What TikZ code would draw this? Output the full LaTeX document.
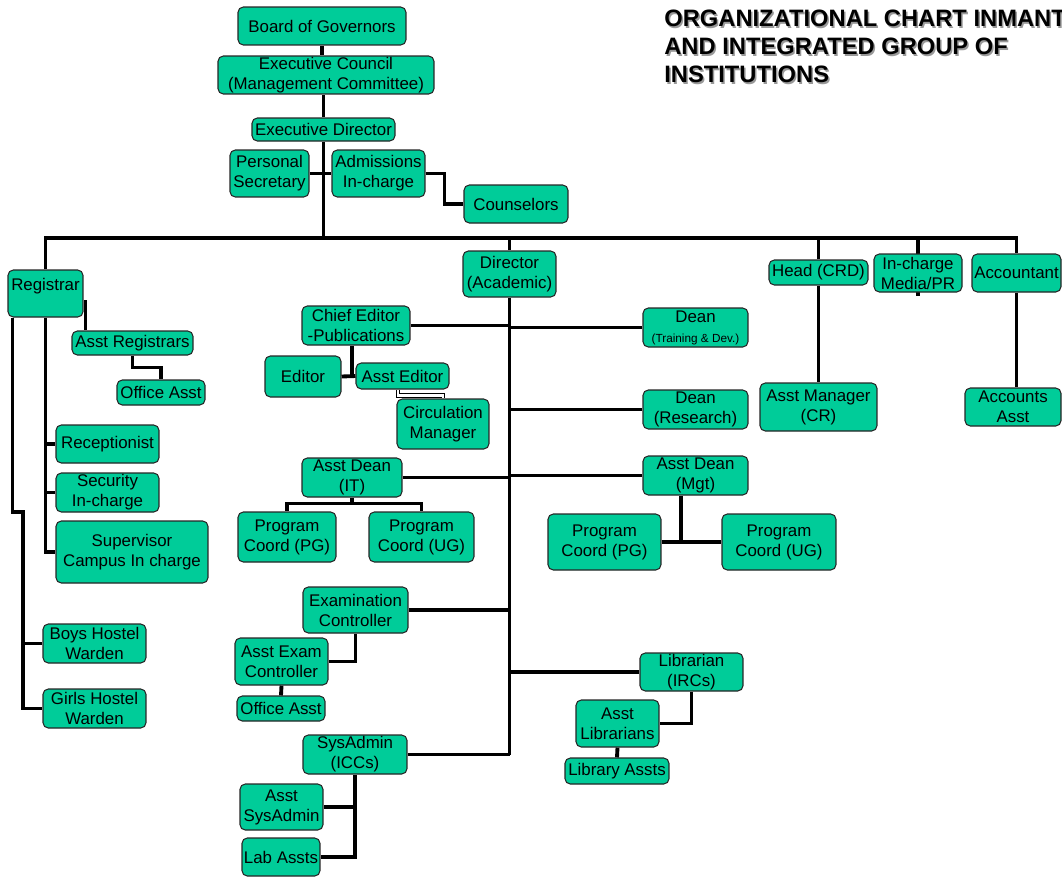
\documentclass[tikz,border=0pt]{standalone}
\usepackage{fontspec}
\setmainfont{Liberation Sans}
\usetikzlibrary{positioning,calc,backgrounds}
\definecolor{orggreen}{HTML}{00CC99}

\begin{document}
\begin{tikzpicture}[x=0.02cm,y=-0.02cm,
  unit/.style={draw=black!85,fill=orggreen,line width=0.6pt,rounded corners=3pt,
    inner sep=0pt,align=center,font=\fontsize{9.6}{11.4}\selectfont},
  link/.style={line width=2.2pt},
  hollow/.style={line width=0.6pt,double=white,double distance=1.2pt},
  heading/.style={anchor=north west,inner sep=0pt,align=left,
    font=\fontsize{13.5}{15.9}\selectfont\bfseries}]

  \useasboundingbox (0,0) rectangle (1062,876);

  % Title with shadow
  \node[heading,text=black!40] (titleshadow) at (665.5,11.5)
    {ORGANIZATIONAL CHART INMANT\\AND INTEGRATED GROUP OF\\INSTITUTIONS};
  \node[heading] (title) at (664,10)
    {ORGANIZATIONAL CHART INMANT\\AND INTEGRATED GROUP OF\\INSTITUTIONS};

  % Top management
  \node[unit,minimum width=3.36cm,minimum height=0.76cm] (bog) at (322,26) {Board of Governors};
  \node[unit,minimum width=4.32cm,minimum height=0.76cm] (ec) at (326,75) {Executive Council\\(Management Committee)};
  \node[unit,minimum width=2.86cm,minimum height=0.46cm] (ed) at (323.5,129.5) {Executive Director};
  \node[unit,minimum width=1.58cm,minimum height=0.94cm] (ps) at (269.5,173.5) {Personal\\Secretary};
  \node[unit,minimum width=1.86cm,minimum height=0.94cm] (adm) at (378.5,173.5) {Admissions\\In-charge};
  \node[unit,minimum width=2.08cm,minimum height=0.76cm] (cou) at (516,204) {Counselors};
  \coordinate (bus) at (323.5,238);

  % Second level
  \node[unit,minimum width=1.5cm,minimum height=0.94cm,text depth=0.38cm] (reg) at (45.5,293.5) {Registrar};
  \node[unit,minimum width=1.86cm,minimum height=0.92cm] (dir) at (509.5,274) {Director\\(Academic)};
  \node[unit,minimum width=1.98cm,minimum height=0.5cm] (crd) at (818.5,272.5) {Head (CRD)};
  \node[unit,minimum width=1.76cm,minimum height=0.76cm] (media) at (918,273) {In-charge\\Media/PR};
  \node[unit,minimum width=1.78cm,minimum height=0.76cm] (acc) at (1016.5,273) {Accountant};
  \node[unit,minimum width=2.34cm,minimum height=0.96cm] (am) at (818.5,407) {Asst Manager\\(CR)};
  \node[unit,minimum width=1.92cm,minimum height=0.76cm] (aa) at (1013,407) {Accounts\\Asst};

  % Registrar branch
  \node[unit,minimum width=2.42cm,minimum height=0.48cm] (areg) at (132.5,343) {Asst Registrars};
  \node[unit,minimum width=1.76cm,minimum height=0.5cm] (oareg) at (161,392.5) {Office Asst};
  \node[unit,minimum width=2.06cm,minimum height=0.76cm] (rec) at (107.5,444) {Receptionist};
  \node[unit,minimum width=2.06cm,minimum height=0.78cm] (sec) at (107.5,492.5) {Security\\In-charge};
  \node[unit,minimum width=3.04cm,minimum height=1.24cm] (sup) at (132,552) {Supervisor\\Campus In charge};
  \node[unit,minimum width=2.06cm,minimum height=0.78cm] (bhw) at (94.5,643.5) {Boys Hostel\\Warden};
  \node[unit,minimum width=2.06cm,minimum height=0.78cm] (ghw) at (94.5,708.5) {Girls Hostel\\Warden};
  \coordinate (hv) at (23,512);

  % Academic branch
  \node[unit,minimum width=2.16cm,minimum height=0.78cm] (ce) at (356,325.5) {Chief Editor\\-Publications};
  \node[unit,minimum width=2.1cm,minimum height=0.78cm] (dtd) at (695.5,327.5) {Dean\\{\fontsize{6.7}{8}\selectfont(Training \& Dev.)}};
  \node[unit,minimum width=1.52cm,minimum height=0.82cm] (edi) at (303,376.5) {Editor};
  \node[unit,minimum width=1.86cm,minimum height=0.52cm] (aed) at (402.5,376) {Asst Editor};
  \node[unit,minimum width=1.84cm,minimum height=1.0cm] (circ) at (443,424) {Circulation\\Manager};
  \node[unit,minimum width=2.1cm,minimum height=0.78cm] (dres) at (695.5,409.5) {Dean\\(Research)};
  \node[unit,minimum width=2.0cm,minimum height=0.78cm] (adit) at (352,477.5) {Asst Dean\\(IT)};
  \node[unit,minimum width=2.1cm,minimum height=0.78cm] (admg) at (695.5,475.5) {Asst Dean\\(Mgt)};
  \node[unit,minimum width=1.96cm,minimum height=1.0cm] (pgit) at (287,537) {Program\\Coord (PG)};
  \node[unit,minimum width=2.1cm,minimum height=1.0cm] (ugit) at (421.5,537) {Program\\Coord (UG)};
  \node[unit,minimum width=2.26cm,minimum height=1.12cm] (pgmg) at (604.5,542) {Program\\Coord (PG)};
  \node[unit,minimum width=2.28cm,minimum height=1.12cm] (ugmg) at (779,542) {Program\\Coord (UG)};
  \node[unit,minimum width=2.1cm,minimum height=0.92cm] (exc) at (355.5,610) {Examination\\Controller};
  \node[unit,minimum width=1.86cm,minimum height=0.94cm] (aexc) at (281.5,661.5) {Asst Exam\\Controller};
  \node[unit,minimum width=1.76cm,minimum height=0.5cm] (oaex) at (281,708.5) {Office Asst};
  \node[unit,minimum width=2.06cm,minimum height=0.76cm] (lib) at (691.5,672) {Librarian\\(IRCs)};
  \node[unit,minimum width=1.66cm,minimum height=0.94cm] (alib) at (617.5,723.5) {Asst\\Librarians};
  \node[unit,minimum width=2.08cm,minimum height=0.52cm] (lassts) at (617,771) {Library Assts};
  \node[unit,minimum width=2.08cm,minimum height=0.78cm] (sys) at (355,754.5) {SysAdmin\\(ICCs)};
  \node[unit,minimum width=1.66cm,minimum height=0.92cm] (asys) at (281.5,807) {Asst\\SysAdmin};
  \node[unit,minimum width=1.56cm,minimum height=0.76cm] (lab) at (281,857) {Lab Assts};

  \begin{scope}[on background layer]
    % top chain
    \draw[link] (bog.south) -- (bog.south |- ec.north);
    \draw[link] (ed.north) -- (ed.north |- ec.south);
    \draw[link] (ed.south) -- (bus);
    \draw[link] (ps.east) -- (adm.west);
    \draw[link] (adm.east) -- ++(19,0) |- (cou.west);

    % main bus
    \draw[link] (reg.north) -- (reg.north |- bus) -- (bus -| acc.north) -- (acc.north);
    \draw[link] (dir.north) -- (dir.north |- bus);
    \draw[link] (crd.north) -- (crd.north |- bus);
    \draw[link] ([yshift=-0.06cm]media.south) -- (media.north |- bus);
    \draw[link] (crd.south) -- (crd.south |- am.north);
    \draw[link] (acc.south) -- (acc.south |- aa.north);

    % registrar
    \draw[link] ([xshift=0.04cm,yshift=-0.13cm]reg.east) -- ([xshift=0.04cm]reg.east |- areg.north);
    \draw[link] (areg.south) -- ++(0,12) -| (oareg.north);
    \draw[link] (reg.south) |- (sup.west);
    \draw[link] (rec.west) -- (rec.west -| reg.south);
    \draw[link] (sec.west) -- (sec.west -| reg.south);
    \draw[link] ([xshift=0.1cm]reg.south west) |- (hv) |- (ghw.west);
    \draw[link] (bhw.west) -- (bhw.west -| hv);

    % academic spine
    \draw[link] (dir.south) -- (dir.south |- sys.east);
    \draw[link] (ce.east) -- (ce.east -| dir.south);
    \draw[link] (dtd.west) -- (dtd.west -| dir.south);
    \draw[link] (dres.west) -- (dres.west -| dir.south);
    \draw[link] (adit.east) -- (adit.east -| dir.south);
    \draw[link] (admg.west) -- (admg.west -| dir.south);
    \draw[link] (exc.east) -- (exc.east -| dir.south);
    \draw[link] (lib.west) -- (lib.west -| dir.south);
    \draw[link] (sys.east) -- (sys.east -| dir.south);

    % publications
    \draw[link] ([xshift=-0.08cm]ce.south) -- ([xshift=-0.08cm]ce.south |- edi.east);
    \draw[link] (edi.east) -- (aed.west);
    \draw[hollow] ([xshift=-0.09cm]aed.south) -- ++(0,6) -| (circ.north);

    % program coordinators
    \draw[link] (adit.south) -- ++(0,6);
    \draw[link] (pgit.north) |- ($(adit.south)+(0,6)$) -| (ugit.north);
    \draw[link] ([xshift=-0.29cm]admg.south) -- ([xshift=-0.29cm]admg.south |- pgmg.east);
    \draw[link] (pgmg.east) -- (ugmg.west);

    % exams, library, systems
    \draw[link] (exc.south) |- (aexc.east);
    \draw[link] (aexc.south) -- (oaex.north);
    \draw[link] (lib.south) |- (alib.east);
    \draw[link] (alib.south) -- (lassts.north);
    \draw[link] (sys.south) |- (lab.east);
    \draw[link] (asys.east) -- (asys.east -| sys.south);
  \end{scope}

\end{tikzpicture}
\end{document}
